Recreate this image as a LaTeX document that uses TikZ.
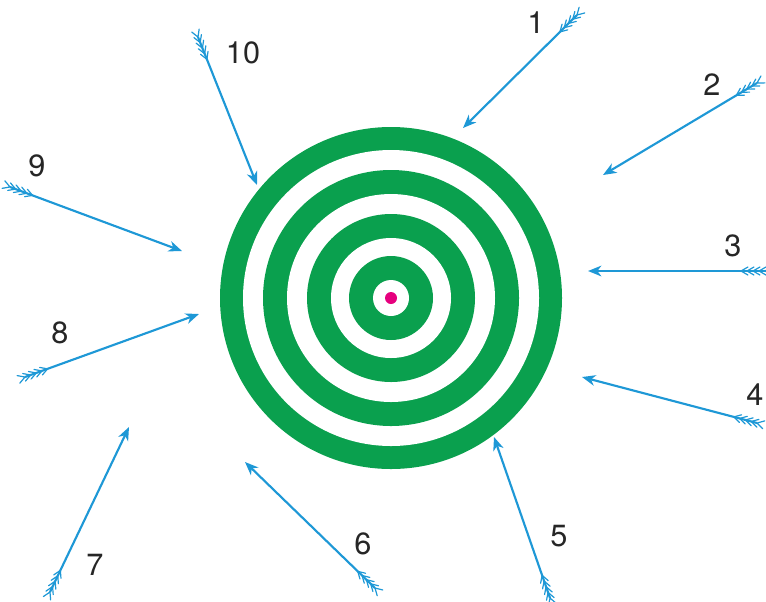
\documentclass[tikz,border=0pt]{standalone}
\usepackage{fontspec}
\setmainfont{TeX Gyre Heros}
\usetikzlibrary{calc,arrows.meta}
\definecolor{tgreen}{RGB}{10,160,78}
\definecolor{ablue}{RGB}{30,152,214}
\definecolor{tmag}{RGB}{230,0,126}
\newcommand\arrowshot[3]{%
  \coordinate (#1t) at (#2);
  \coordinate (#1h) at (#3);
  \draw[shaft] (#1t) -- (#1h);
  \foreach \s in {0,4.5,9,13.5,18}{%
    \coordinate (p) at ($(#1t)!\s pt!(#1h)$);
    \draw[barb] ($(p)!6pt!150:(#1h)$) -- (p) -- ($(p)!6pt!-150:(#1h)$);
  }%
}
\begin{document}
\begin{tikzpicture}[x=0.75pt,y=-0.75pt,
  shaft/.style={draw=ablue, line width=1.6pt, -{Stealth[length=10pt,width=8pt,inset=3pt]}},
  barb/.style={draw=ablue, line width=0.9pt, line cap=round},
  num/.style={font=\fontsize{23}{23}\selectfont, text=black!85, inner sep=0pt}]
\useasboundingbox (0,0) rectangle (766,601);
\coordinate (c) at (391,298);
\fill[tgreen] (c) circle[radius=171];
\fill[white] (c) circle[radius=148];
\fill[tgreen] (c) circle[radius=128];
\fill[white] (c) circle[radius=104];
\fill[tgreen] (c) circle[radius=84];
\fill[white] (c) circle[radius=60];
\fill[tgreen] (c) circle[radius=42];
\fill[white] (c) circle[radius=18];
\fill[tmag] (c) circle[radius=6];

\arrowshot{a1}{577,15}{463,128}
\arrowshot{a2}{757,83}{603,175}
\arrowshot{a3}{765,271}{588,271}
\arrowshot{a4}{757,423}{582,377}
\arrowshot{a5}{550,598}{494,437}
\arrowshot{a6}{375,588}{245,462}
\arrowshot{a7}{50,592}{129,427}
\arrowshot{a8}{25,377}{199,314}
\arrowshot{a9}{10,187}{182,251}
\arrowshot{a10}{198,37}{257,185}

\node[num] (n1) at (536,23) {1};
\node[num] (n2) at (712,85) {2};
\node[num] (n3) at (733,246) {3};
\node[num] (n4) at (755,395) {4};
\node[num] (n5) at (559,536) {5};
\node[num] (n6) at (363,544) {6};
\node[num] (n7) at (95,565) {7};
\node[num] (n8) at (60,333) {8};
\node[num] (n9) at (37,166) {9};
\node[num] (n10) at (243,53) {10};
\end{tikzpicture}
\end{document}
